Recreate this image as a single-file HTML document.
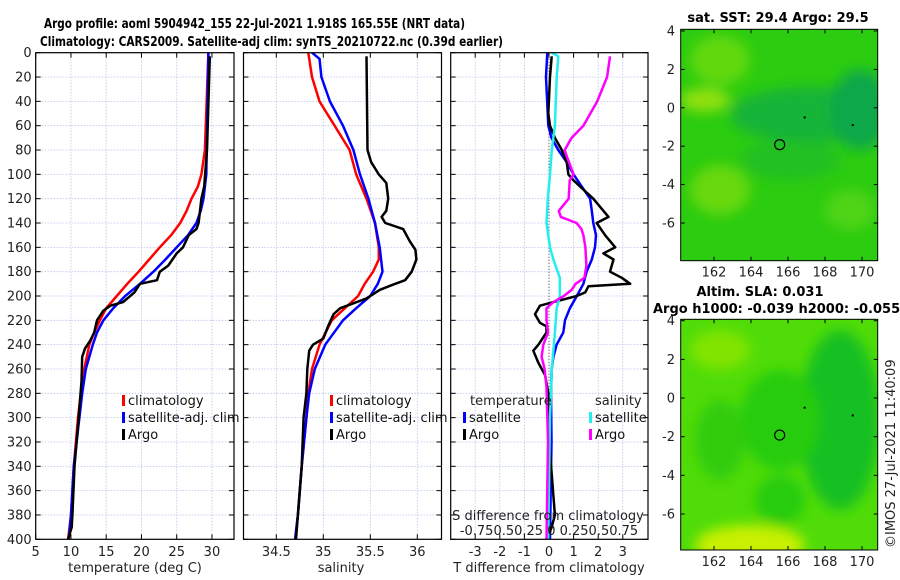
<!DOCTYPE html>
<html><head><meta charset="utf-8"><style>
body{margin:0;background:#fff;}
svg{display:block;font-family:"DejaVu Sans","Liberation Sans",sans-serif;}
</style></head><body>
<svg id="fig" width="900" height="580" viewBox="0 0 900 580">
<defs>
<filter id="blur6" x="-50%" y="-50%" width="200%" height="200%"><feGaussianBlur stdDeviation="6"/></filter>
<clipPath id="clipMap1"><rect x="680.7" y="29.3" width="197" height="231.4"/></clipPath>
<clipPath id="clipMap2"><rect x="680.7" y="319.3" width="197" height="230.7"/></clipPath>
<clipPath id="clipP1"><rect x="35.7" y="52.7" width="198.3" height="486.6"/></clipPath>
<clipPath id="clipP2"><rect x="243.5" y="52.7" width="198" height="486.6"/></clipPath>
<clipPath id="clipP3"><rect x="450.7" y="52.7" width="197.3" height="486.6"/></clipPath>
</defs>
<text x="44" y="28" font-size="13" font-weight="bold" textLength="421" lengthAdjust="spacingAndGlyphs">Argo profile: aoml 5904942_155 22-Jul-2021 1.918S 165.55E (NRT data)</text>
<text x="40" y="46" font-size="13" font-weight="bold" textLength="463" lengthAdjust="spacingAndGlyphs">Climatology: CARS2009. Satellite-adj clim: synTS_20210722.nc (0.39d earlier)</text>

<g clip-path="url(#clipMap1)">
<rect x="680.7" y="29.3" width="197" height="231.4" fill="#2ccc10"/>
<g filter="url(#blur6)">
<ellipse cx="810" cy="115" rx="80" ry="28" fill="#18b438"/>
<ellipse cx="860" cy="110" rx="30" ry="40" fill="#10a848"/>
<ellipse cx="790" cy="160" rx="50" ry="20" fill="#20c020"/>
<ellipse cx="705" cy="100" rx="25" ry="12" fill="#90e010"/>
<ellipse cx="720" cy="60" rx="30" ry="25" fill="#60d810"/>
<ellipse cx="720" cy="190" rx="30" ry="25" fill="#68d810"/>
<ellipse cx="850" cy="210" rx="25" ry="20" fill="#50d418"/>
</g>
</g>
<rect x="680.7" y="29.3" width="197" height="231.4" fill="none" stroke="#000" stroke-width="1"/>
<text x="778" y="22" font-size="13" font-weight="bold" text-anchor="middle">sat. SST: 29.4 Argo: 29.5</text>

<g clip-path="url(#clipMap2)">
<rect x="680.7" y="319.3" width="197" height="230.7" fill="#50dc08"/>
<g filter="url(#blur6)">
<ellipse cx="840" cy="420" rx="40" ry="90" fill="#18c020"/>
<ellipse cx="780" cy="420" rx="40" ry="50" fill="#28cc10"/>
<ellipse cx="780" cy="500" rx="25" ry="25" fill="#28cc10"/>
<ellipse cx="720" cy="440" rx="25" ry="40" fill="#30cc10"/>
<ellipse cx="750" cy="545" rx="55" ry="20" fill="#c8f000"/>
<ellipse cx="720" cy="350" rx="30" ry="20" fill="#80e400"/>
</g>
</g>
<rect x="680.7" y="319.3" width="197" height="230.7" fill="none" stroke="#000" stroke-width="1"/>
<text x="760" y="296" font-size="13" font-weight="bold" text-anchor="middle">Altim. SLA: 0.031</text>
<text x="653" y="313" font-size="13" font-weight="bold">Argo h1000: -0.039 h2000: -0.055</text>
<text x="895" y="548" font-size="13" transform="rotate(-90 895 548)" fill="#222">©IMOS 27-Jul-2021 11:40:09</text>
</svg>
<script>
// ----- data -----
const depthTicks=[0,20,40,60,80,100,120,140,160,180,200,220,240,260,280,300,320,340,360,380,400];
const tTicks=[5,10,15,20,25,30];
const sTicks=[34.5,35,35.5,36];
const dTicks=[-3,-2,-1,0,1,2,3];
const lonTicks=[162,164,166,168,170];
const latTicks=[4,2,0,-2,-4,-6];

const tClimDepth=[0,80,100,110,120,130,140,150,160,170,180,190,200,210,220,230,240,260,280,300,340,380,400];
const tClimVal=[29.5,29.0,28.5,28.0,27.1,26.4,25.5,24.2,22.6,21.1,19.6,18.0,16.5,15.0,14.1,13.3,12.6,11.9,11.4,11.0,10.4,10.0,9.6];
const tSatDepth=[0,100,120,130,140,150,160,170,180,190,200,210,220,230,240,260,280,300,340,380,400];
const tSatVal=[29.5,29.2,28.8,28.4,27.8,26.6,25.0,23.4,21.7,19.8,17.7,16.0,14.6,13.7,13.1,12.1,11.6,11.2,10.4,10.0,9.7];
const tArgoDepth=[3,80,110,120,130,140,145,150,160,165,175,180,187,190,197,205,208,212,220,230,237,243,250,270,300,340,380,390,400];
const tArgoVal=[29.7,29.3,28.9,28.5,28.3,28.1,27.8,26.7,25.9,25.0,23.8,22.6,22.2,19.8,19.0,17.4,15.6,14.6,13.7,13.3,12.7,12.0,11.6,11.5,11.1,10.5,10.2,10.1,9.6];

const sClimDepth=[0,20,40,60,80,100,120,140,160,170,180,190,200,210,220,240,260,280,300,340,380,400];
const sClimVal=[34.84,34.88,34.96,35.12,35.28,35.35,35.46,35.55,35.59,35.59,35.53,35.44,35.37,35.23,35.09,34.96,34.88,34.84,34.82,34.77,34.73,34.70];
const sSatDepth=[0,5,20,40,60,80,100,120,140,160,180,190,200,210,220,240,260,280,300,340,380,400];
const sSatVal=[34.88,34.96,34.98,35.07,35.21,35.32,35.39,35.48,35.55,35.60,35.63,35.58,35.50,35.35,35.21,35.02,34.91,34.85,34.82,34.77,34.73,34.70];
const sArgoDepth=[3,80,90,100,107,120,130,135,140,145,155,162,170,180,187,191,195,202,206,210,215,225,235,240,245,260,280,300,340,380,400];
const sArgoVal=[35.46,35.47,35.51,35.59,35.67,35.69,35.67,35.62,35.66,35.85,35.92,35.98,35.99,35.94,35.87,35.73,35.60,35.46,35.32,35.18,35.11,35.05,35.00,34.89,34.85,34.83,34.82,34.79,34.77,34.73,34.71];

const dtSatDepth=[0,20,60,70,80,90,100,110,120,130,140,150,160,170,180,190,200,210,220,230,240,250,260,280,320,360,400];
const dtSatVal=[-0.07,-0.12,-0.03,0.1,0.38,0.72,1.0,1.33,1.67,1.74,1.8,1.91,1.87,1.74,1.53,1.4,1.13,0.85,0.65,0.58,0.31,0.18,0.11,0.08,0.1,0.07,0.04];
const dtArgoDepth=[3,20,50,60,70,80,90,100,105,110,120,130,135,140,150,160,165,170,180,185,190,192,197,200,205,208,215,222,225,230,240,245,255,265,280,320,380,390,400];
const dtArgoVal=[0.11,0.04,-0.03,0.04,0.24,0.52,0.72,0.79,1.0,1.26,1.8,2.21,2.42,1.94,2.28,2.69,2.21,2.62,2.48,2.96,3.3,1.6,1.47,1.13,0.18,-0.37,-0.57,-0.37,-0.1,-0.1,-0.43,-0.64,-0.43,-0.16,-0.03,0.01,0.24,0.11,-0.09];
const dsSatDepth=[0,3,20,60,80,100,120,140,160,170,185,200,210,230,260,300,400];
const dsSatVal=[0.028,0.095,0.078,0.06,0.028,0.01,-0.012,-0.025,0.01,0.045,0.11,0.11,0.078,0.06,0.028,0.01,-0.008];
const dsArgoDepth=[3,20,40,60,70,80,85,100,105,120,130,135,140,145,150,160,175,185,190,195,200,205,210,220,230,240,250,260,275,320,400];
const dsArgoVal=[0.62,0.59,0.49,0.35,0.23,0.16,0.18,0.25,0.21,0.2,0.1,0.12,0.28,0.33,0.35,0.37,0.38,0.36,0.27,0.23,0.15,0.045,-0.025,-0.025,-0.01,-0.058,-0.075,-0.045,-0.025,-0.01,-0.025];

const argoLon=165.55, argoLat=-1.918;
const dotLon=[166.9,169.5], dotLat=[-0.5,-0.9];

// ----- axes -----
const NS="http://www.w3.org/2000/svg";
const svg=document.getElementById('fig');
function mk(tag,attrs,parent){const e=document.createElementNS(NS,tag);for(const k in attrs)e.setAttribute(k,attrs[k]);(parent||svg).appendChild(e);return e;}
const Y0=52.7,Y1=539.3;
const yD=d=>Y0+d*(Y1-Y0)/400;
const P1={l:35.7,r:234,x:v=>35.7+(v-5)*7.05};
const P2={l:243.5,r:441.5,x:v=>276.3+(v-34.5)*94};
const P3={l:450.7,r:648,x:v=>549+v*24.6};
const xS=v=>P3.x(v*4);
const lonX=v=>714+(v-162)*18.5;
const lat1Y=v=>31+(4-v)*19.2;
const lat2Y=v=>320.7+(4-v)*19.33;

function panel(P,name,xt,xlabels,xfn,showY){
  const g=mk('g',{});
  
  
  depthTicks.forEach(d=>{
    const y=yD(d);
    const gl=mk('line',{x1:P.l,x2:P.r,y1:y,y2:y,stroke:'#b8c4ee','stroke-width':0.8,'stroke-dasharray':'1.5,1.5'},g);
    
    
    mk('line',{x1:P.l,x2:P.l+5,y1:y,y2:y,stroke:'#000','stroke-width':1},g);
    mk('line',{x1:P.r,x2:P.r-5,y1:y,y2:y,stroke:'#000','stroke-width':1},g);
    if(showY){const t=mk('text',{x:P.l-4,y:y+4.5,'font-size':13,'text-anchor':'end',fill:'#222'},g);t.textContent=d;
      
      }
  });
  xt.forEach((v,i)=>{
    const x=xfn(v);
    const gl=mk('line',{x1:x,x2:x,y1:Y0,y2:Y1,stroke:'#b8c4ee','stroke-width':0.8,'stroke-dasharray':'1.5,1.5'},g);
    
    
    mk('line',{x1:x,x2:x,y1:Y0,y2:Y0+5,stroke:'#000'},g);
    mk('line',{x1:x,x2:x,y1:Y1,y2:Y1-5,stroke:'#000'},g);
    const t=mk('text',{x:x,y:556,'font-size':13,'text-anchor':'middle',fill:'#222'},g);t.textContent=xlabels[i];
    
    
  });
  return g;
}
function frame(P){const r=mk('rect',{x:P.l,y:Y0,width:P.r-P.l,height:Y1-Y0,fill:'none',stroke:'#000','stroke-width':1.2});
  }
function line(depths,vals,xf,color,clip,name){
  const p=depths.map((d,i)=>xf(vals[i]).toFixed(1)+','+yD(d).toFixed(1)).join(' ');
  const l=mk('polyline',{points:p,fill:'none',stroke:color,'stroke-width':2.5,'stroke-linejoin':'round','clip-path':'url(#'+clip+')'});
  
  
}
function label(x,y,txt,name,anchor){const t=mk('text',{x:x,y:y,'font-size':13,'text-anchor':anchor||'middle',fill:'#222'});t.textContent=txt;
  }
function legendEntry(x,y,color,txt){
  const g=mk('g',{});
  
  
  mk('rect',{x:x,y:y-10,width:3,height:11,fill:color},g);
  const t=mk('text',{x:x+6,y:y,'font-size':13,fill:'#111'},g);t.textContent=txt;
}

// Panel 1
panel(P1,'temperature-panel',tTicks,tTicks,P1.x,true);
line(tClimDepth,tClimVal,P1.x,'#ff0000','clipP1','temp-climatology-line');
line(tSatDepth,tSatVal,P1.x,'#0000ff','clipP1','temp-satellite-line');
line(tArgoDepth,tArgoVal,P1.x,'#000000','clipP1','temp-argo-line');
frame(P1);
label(135,572,'temperature (deg C)','temperature-axis-title');
legendEntry(122,405,'#ff0000','climatology');
legendEntry(122,422,'#0000ff','satellite-adj. clim');
legendEntry(122,439,'#000000','Argo');

// Panel 2
panel(P2,'salinity-panel',sTicks,sTicks,P2.x,false);
line(sClimDepth,sClimVal,P2.x,'#ff0000','clipP2','sal-climatology-line');
line(sSatDepth,sSatVal,P2.x,'#0000ff','clipP2','sal-satellite-line');
line(sArgoDepth,sArgoVal,P2.x,'#000000','clipP2','sal-argo-line');
frame(P2);
label(341,572,'salinity','salinity-axis-title');
legendEntry(330,405,'#ff0000','climatology');
legendEntry(330,422,'#0000ff','satellite-adj. clim');
legendEntry(330,439,'#000000','Argo');

// Panel 3
panel(P3,'difference-panel',dTicks,dTicks,P3.x,false);
const zl=mk('line',{x1:P3.x(0),x2:P3.x(0),y1:Y0,y2:Y1,stroke:'#444','stroke-width':1,'stroke-dasharray':'1,2'});

line(dtSatDepth,dtSatVal,P3.x,'#0000ff','clipP3','dT-satellite-line');
line(dtArgoDepth,dtArgoVal,P3.x,'#000000','clipP3','dT-argo-line');
line(dsSatDepth,dsSatVal,xS,'#22eeee','clipP3','dS-satellite-line');
line(dsArgoDepth,dsArgoVal,xS,'#ff00ff','clipP3','dS-argo-line');
frame(P3);
label(549,572,'T difference from climatology','dT-axis-title');
label(470,405,'temperature','legend-temperature-header','start');
label(595,405,'salinity','legend-salinity-header','start');
legendEntry(463,422,'#0000ff','satellite');
legendEntry(463,439,'#000000','Argo');
legendEntry(589,422,'#22eeee','satellite');
legendEntry(589,439,'#ff00ff','Argo');
label(548,520,'S difference from climatology','dS-axis-title');
label(549,535,'-0.750.50.25 0  0.250.50.75','dS-tick-labels');

// Maps axes
function mapAxes(top,bot,latY,name){
  const g=mk('g',{});
  
  
  lonTicks.forEach(v=>{const x=lonX(v);
    mk('line',{x1:x,x2:x,y1:bot,y2:bot-4,stroke:'#000'},g);
    mk('line',{x1:x,x2:x,y1:top,y2:top+4,stroke:'#000'},g);
    const t=mk('text',{x:x,y:bot+16,'font-size':13,'text-anchor':'middle',fill:'#222'},g);t.textContent=v;});
  latTicks.forEach(v=>{const y=latY(v);
    mk('line',{x1:680.7,x2:684.7,y1:y,y2:y,stroke:'#000'},g);
    mk('line',{x1:877.7,x2:873.7,y1:y,y2:y,stroke:'#000'},g);
    const t=mk('text',{x:675,y:y+4.5,'font-size':13,'text-anchor':'end',fill:'#222'},g);t.textContent=v;});
  const c=mk('circle',{cx:lonX(argoLon),cy:latY(argoLat),r:5,fill:'none',stroke:'#000','stroke-width':1.2},g);
  
  
  dotLon.forEach((v,i)=>{mk('rect',{x:lonX(v)-1,y:latY(dotLat[i])-1,width:2,height:2,fill:'#000'},g);});
}
mapAxes(29.3,260.7,lat1Y,'sst-map-axes');
mapAxes(319.3,550,lat2Y,'sla-map-axes');
</script>
</body></html>
